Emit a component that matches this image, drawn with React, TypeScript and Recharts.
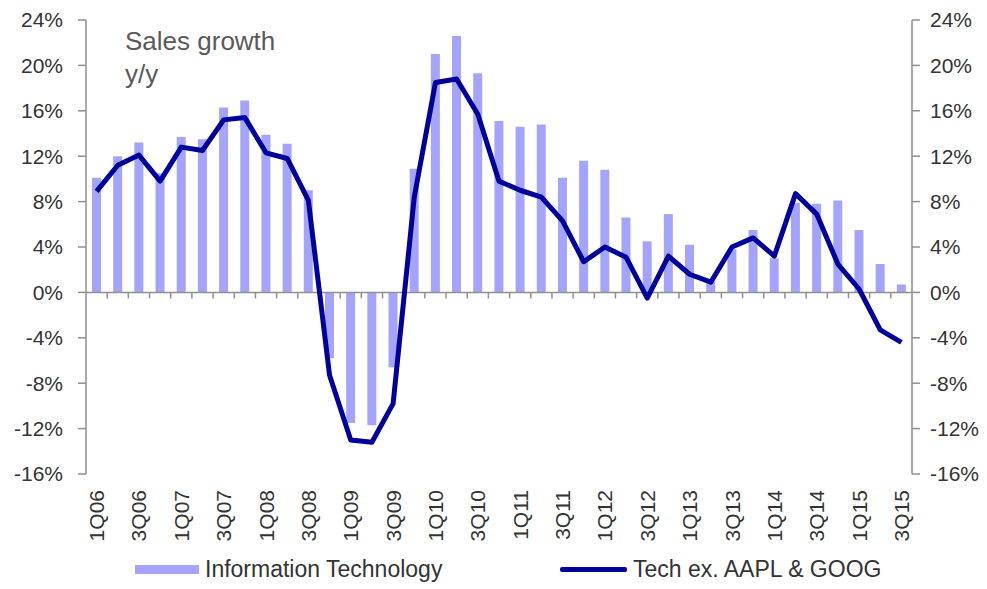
import React from 'react';
import { ComposedChart, Bar, Line, XAxis, YAxis, ReferenceLine, Legend } from 'recharts';

const quarters = [
  '1Q06', '2Q06', '3Q06', '4Q06',
  '1Q07', '2Q07', '3Q07', '4Q07',
  '1Q08', '2Q08', '3Q08', '4Q08',
  '1Q09', '2Q09', '3Q09', '4Q09',
  '1Q10', '2Q10', '3Q10', '4Q10',
  '1Q11', '2Q11', '3Q11', '4Q11',
  '1Q12', '2Q12', '3Q12', '4Q12',
  '1Q13', '2Q13', '3Q13', '4Q13',
  '1Q14', '2Q14', '3Q14', '4Q14',
  '1Q15', '2Q15', '3Q15',
];

const infoTech = [
  10.1, 12.0, 13.2, 10.5,
  13.7, 13.5, 16.3, 16.9,
  13.9, 13.1, 9.0, -5.8,
  -11.5, -11.7, -6.6, 10.9,
  21.0, 22.6, 19.3, 15.1,
  14.6, 14.8, 10.1, 11.6,
  10.8, 6.6, 4.5, 6.9,
  4.2, 1.0, 3.8, 5.5,
  3.0, 7.9, 7.8, 8.1,
  5.5, 2.5, 0.7,
];

const techExAaplGoog = [
  8.9, 11.2, 12.1, 9.8,
  12.8, 12.5, 15.2, 15.4,
  12.3, 11.8, 8.1, -7.3,
  -13.0, -13.2, -9.8, 8.4,
  18.5, 18.8, 15.7, 9.8,
  9.0, 8.4, 6.3, 2.7,
  4.0, 3.1, -0.5, 3.2,
  1.6, 0.9, 4.0, 4.8,
  3.2, 8.7, 6.9, 2.5,
  0.3, -3.3, -4.4,
];

const yTicks = [-16, -12, -8, -4, 0, 4, 8, 12, 16, 20, 24];
const titleLines = ['Sales growth', 'y/y'];
const seriesNames = ['Information Technology', 'Tech ex. AAPL & GOOG'];

const data = quarters.map((q, i) => ({ q, it: infoTech[i], tech: techExAaplGoog[i] }));

const FONT = '"Liberation Sans", Arial, sans-serif';
const BAR_COLOR = '#a4a4fc';
const LINE_COLOR = '#00009c';
const AXIS_COLOR = '#8f8f8f';
const TEXT_COLOR = '#333333';

const XTick = (props: any) => {
  const { x, y, payload } = props;
  return (
    <text
      x={x}
      y={y}
      transform={`rotate(-90, ${x}, ${y})`}
      textAnchor="end"
      dy="0.36em"
      fontSize={21}
      fontFamily={FONT}
      fill={TEXT_COLOR}
    >
      {payload.value}
    </text>
  );
};

const ZeroAxis = (props: any) => {
  const { x1, x2, y1 } = props;
  const n = quarters.length;
  const step = (x2 - x1) / n;
  const ticks = [];
  for (let i = 1; i < n; i++) {
    const tx = x1 + i * step;
    ticks.push(<line key={i} x1={tx} x2={tx} y1={y1} y2={y1 + 6} stroke={AXIS_COLOR} strokeWidth={1.5} />);
  }
  return (
    <g>
      <line x1={x1} x2={x2} y1={y1} y2={y1} stroke={AXIS_COLOR} strokeWidth={1.5} />
      {ticks}
    </g>
  );
};

const legendLefts = [135, 560];

const LegendContent = (props: any) => {
  const payload = props.payload || [];
  return (
    <div style={{ position: 'relative', width: 987, height: 40, fontFamily: FONT, fontSize: 23, color: TEXT_COLOR }}>
      {payload.map((p: any, i: number) => (
        <div
          key={i}
          style={{ position: 'absolute', left: legendLefts[i], top: 0, height: 40, display: 'flex', alignItems: 'center', whiteSpace: 'nowrap' }}
        >
          {p.type === 'rect' ? (
            <div style={{ width: 64, height: 9, background: BAR_COLOR, marginRight: 6 }} />
          ) : (
            <div style={{ width: 67, height: 5, background: LINE_COLOR, borderRadius: 2, marginRight: 6 }} />
          )}
          <span>{p.value}</span>
        </div>
      ))}
    </div>
  );
};

export default function App() {
  return (
    <div style={{ position: 'absolute', left: 0, top: 0, width: 987, height: 589, background: '#fff' }}>
      <ComposedChart
        width={987}
        height={589}
        data={data}
        margin={{ top: 20, right: 0, bottom: 0, left: 0 }}
        barCategoryGap={0}
      >
        <XAxis
          dataKey="q"
          interval={1}
          tickLine={false}
          axisLine={false}
          tickSize={0}
          tickMargin={16}
          height={75}
          tick={<XTick />}
        />
        <YAxis
          yAxisId="left"
          domain={[-16, 24]}
          ticks={yTicks}
          allowDataOverflow
          width={86}
          tickSize={8}
          tickMargin={15}
          tickFormatter={(v: number) => `${v}%`}
          axisLine={{ stroke: AXIS_COLOR, strokeWidth: 1.5 }}
          tickLine={{ stroke: AXIS_COLOR, strokeWidth: 1.5 }}
          tick={{ fill: TEXT_COLOR, fontSize: 21, fontFamily: FONT }}
        />
        <YAxis
          yAxisId="right"
          orientation="right"
          domain={[-16, 24]}
          ticks={yTicks}
          allowDataOverflow
          width={75}
          tickSize={8}
          tickMargin={10}
          tickFormatter={(v: number) => `${v}%`}
          axisLine={{ stroke: AXIS_COLOR, strokeWidth: 1.5 }}
          tickLine={{ stroke: AXIS_COLOR, strokeWidth: 1.5 }}
          tick={{ fill: TEXT_COLOR, fontSize: 21, fontFamily: FONT, textAnchor: 'start' }}
        />
        <Bar
          yAxisId="left"
          dataKey="it"
          name={seriesNames[0]}
          fill={BAR_COLOR}
          barSize={9}
          legendType="rect"
          isAnimationActive={false}
        />
        <ReferenceLine yAxisId="left" y={0} shape={(p: any) => <ZeroAxis {...p} />} />
        <Line
          yAxisId="left"
          dataKey="tech"
          name={seriesNames[1]}
          stroke={LINE_COLOR}
          strokeWidth={5}
          strokeLinejoin="round"
          dot={false}
          activeDot={false}
          legendType="line"
          isAnimationActive={false}
        />
        <Legend
          verticalAlign="bottom"
          content={<LegendContent />}
          wrapperStyle={{ width: 987, height: 40, left: 0 }}
        />
      </ComposedChart>
      <div
        style={{
          position: 'absolute',
          left: 125,
          top: 25,
          fontFamily: FONT,
          fontSize: 26,
          lineHeight: '33px',
          color: '#5a5a5a',
          pointerEvents: 'none',
        }}
      >
        {titleLines.map((t, i) => (
          <div key={i}>{t}</div>
        ))}
      </div>
    </div>
  );
}
